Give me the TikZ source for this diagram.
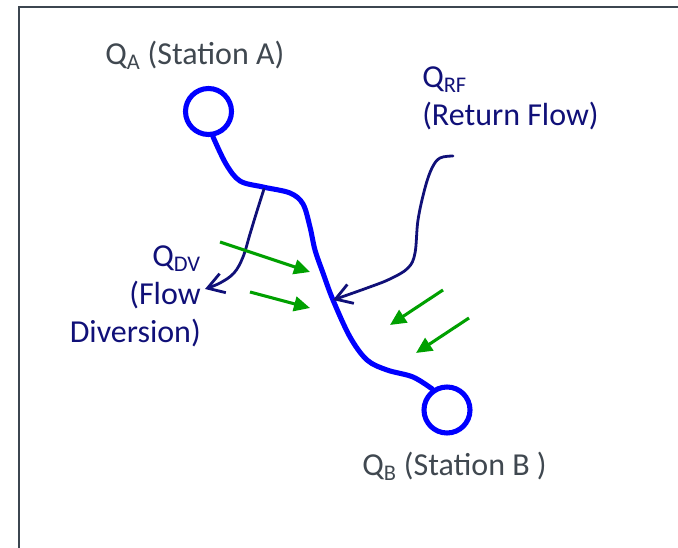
\documentclass[tikz,border=0pt]{standalone}
\usepackage{fontspec}
\setmainfont{Carlito}
\usetikzlibrary{arrows.meta}
\definecolor{riverblue}{RGB}{0,0,255}
\definecolor{navytxt}{RGB}{16,16,120}
\definecolor{graytxt}{RGB}{64,72,80}
\definecolor{framecol}{RGB}{60,70,80}
\definecolor{flowgreen}{RGB}{0,160,0}
\tikzset{
  station/.style={circle, draw=riverblue, line width=3.8pt, minimum size=34.5pt, inner sep=0pt},
  river/.style={draw=riverblue, line width=3.8pt, line cap=round},
  flowline/.style={draw=navytxt, line width=2.1pt, line cap=round, -{Straight Barb[length=12pt,width=15pt,line width=2.1pt]}},
  inflow/.style={draw=flowgreen, line width=2.3pt, -{Triangle[length=12pt,width=11pt]}},
  lbl/.style={inner sep=0pt, font=\fontsize{24}{28.5}\selectfont},
}
\begin{document}
\begin{tikzpicture}[x=0.75pt,y=-0.75pt]
\useasboundingbox (0,0) rectangle (678,548);
% frame
\draw[framecol, line width=1.3pt] (19,548) -- (19,7) -- (678,7);
% stations
\node[station] (A) at (208.5,111.5) {};
\node[station] (B) at (447,410) {};
% river
\draw[river] plot[smooth, tension=0.55] coordinates {(A.-80) (226,164) (240,181) (263,187) (290,193) (303,204) (310,227) (315,250) (323,273) (333,300) (350,337) (367,360) (387,370) (413,377) (B.125)};
% return flow
\coordinate (rf) at (453,156);
\coordinate (rftip) at (333,300);
\draw[flowline] plot[smooth, tension=0.6] coordinates {(rf) (440,158) (432,168) (425,188) (418,220) (415,253) (408,268) (390,279) (367,288) (rftip)};
% diversion
\coordinate (dv) at (264,189);
\coordinate (dvtip) at (205,289);
\draw[flowline] plot[smooth, tension=0.6] coordinates {(dv) (257,211) (250,234) (243,257) (234,273) (220,283) (dvtip)};
% inflows
\coordinate (g1s) at (220,242); \coordinate (g1e) at (310,272);
\coordinate (g2s) at (250,292); \coordinate (g2e) at (310,308);
\coordinate (g3s) at (443,290); \coordinate (g3e) at (390,325);
\coordinate (g4s) at (469,318); \coordinate (g4e) at (416,353);
\draw[inflow] (g1s) -- (g1e);
\draw[inflow] (g2s) -- (g2e);
\draw[inflow] (g3s) -- (g3e);
\draw[inflow] (g4s) -- (g4e);
% labels
\node[lbl, text=graytxt, anchor=base west] (la) at (105,65) {Q\textsubscript{A} (Station A)};
\node[lbl, text=graytxt, anchor=base west] (lb) at (362,476) {Q\textsubscript{B} (Station B )};
\node[lbl, text=navytxt, anchor=base west, align=left] (lrf) at (422,126) {Q\textsubscript{RF}\\(Return Flow)};
\node[lbl, text=navytxt, anchor=base east, align=right] (ldv) at (201,343) {Q\textsubscript{DV}\\(Flow\\Diversion)};
\end{tikzpicture}
\end{document}
